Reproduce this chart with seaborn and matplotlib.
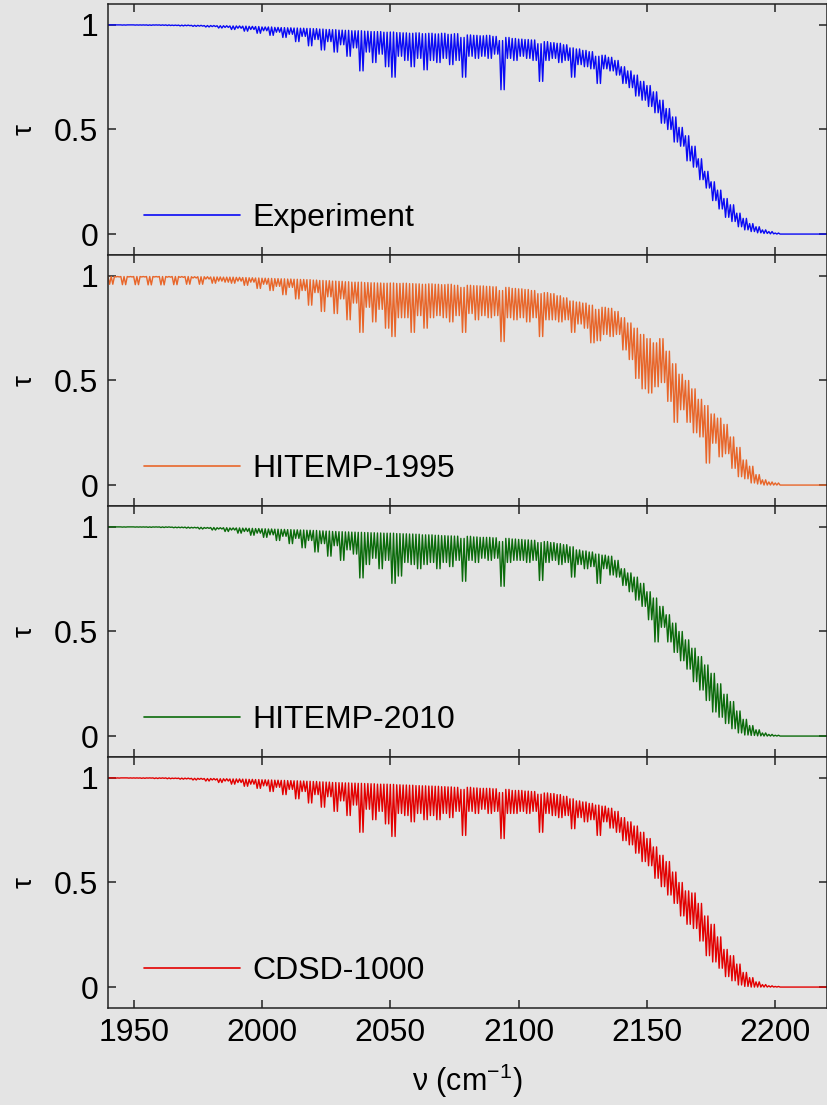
import numpy as np
import pandas as pd
import matplotlib
matplotlib.use("Agg")
import matplotlib.pyplot as plt
import seaborn as sns

# ---------------- data ----------------
# line positions (cm^-1), 1940 ... 2200 every 2.5
nu_lines = np.arange(1940.0, 2200.1, 2.5)
tail_nu = 2220.0
tail_tau = 0.0

labels = ["Experiment", "HITEMP-1995", "HITEMP-2010", "CDSD-1000"]

exp_top = [
    1.0, 1.0, 1.0, 1.0, 1.0, 1.0, 1.0, 1.0, 1.0, 1.0,
    0.999, 0.999, 0.999, 0.998, 0.998, 0.997, 0.997, 0.996, 0.996, 0.995,
    0.995, 0.994, 0.993, 0.992, 0.99, 0.99, 0.988, 0.987, 0.986, 0.985,
    0.984, 0.983, 0.982, 0.98, 0.978, 0.977, 0.975, 0.974, 0.972, 0.972,
    0.97, 0.968, 0.968, 0.965, 0.966, 0.963, 0.962, 0.96, 0.962, 0.958,
    0.96, 0.957, 0.96, 0.955, 0.958, 0.94, 0.952, 0.95, 0.948, 0.95,
    0.945, 0.925, 0.94, 0.935, 0.932, 0.93, 0.928, 0.91, 0.92, 0.915,
    0.912, 0.905, 0.89, 0.885, 0.878, 0.872, 0.85, 0.855, 0.845, 0.83,
    0.80, 0.78, 0.76, 0.73, 0.71, 0.68, 0.64, 0.60, 0.56, 0.51,
    0.47, 0.42, 0.36, 0.30, 0.25, 0.21, 0.17, 0.14, 0.10, 0.075,
    0.05, 0.035, 0.02, 0.012, 0.005,
]
exp_dip = [
    1.0, 1.0, 0.999, 1.0, 0.999, 0.999, 0.998, 0.999, 0.998, 0.997,
    0.997, 0.995, 0.996, 0.993, 0.994, 0.99, 0.992, 0.985, 0.988, 0.978,
    0.984, 0.97, 0.978, 0.96, 0.972, 0.95, 0.965, 0.94, 0.955, 0.92,
    0.945, 0.90, 0.93, 0.88, 0.92, 0.87, 0.905, 0.85, 0.89, 0.78,
    0.87, 0.82, 0.86, 0.80, 0.75, 0.85, 0.83, 0.80, 0.84, 0.785,
    0.83, 0.82, 0.84, 0.81, 0.83, 0.75, 0.85, 0.84, 0.85, 0.84,
    0.86, 0.69, 0.84, 0.83, 0.85, 0.84, 0.83, 0.73, 0.83, 0.84,
    0.82, 0.83, 0.75, 0.81, 0.80, 0.79, 0.72, 0.79, 0.78, 0.76,
    0.72, 0.70, 0.66, 0.64, 0.61, 0.58, 0.53, 0.50, 0.44, 0.42,
    0.35, 0.32, 0.26, 0.22, 0.16, 0.12, 0.08, 0.06, 0.035, 0.02,
    0.012, 0.006, 0.003, 0.001, 0.0,
]

h95_top = [
    0.997, 0.997, 0.997, 0.997, 0.997, 0.997, 0.997, 0.997, 0.997, 0.997,
    0.997, 0.997, 0.997, 0.996, 0.996, 0.996, 0.995, 0.995, 0.994, 0.994,
    0.993, 0.992, 0.991, 0.99, 0.989, 0.988, 0.987, 0.986, 0.985, 0.984,
    0.983, 0.982, 0.98, 0.978, 0.977, 0.975, 0.974, 0.972, 0.97, 0.97,
    0.968, 0.967, 0.966, 0.965, 0.966, 0.964, 0.965, 0.963, 0.962, 0.96,
    0.962, 0.96, 0.958, 0.96, 0.955, 0.945, 0.955, 0.953, 0.952, 0.95,
    0.948, 0.93, 0.945, 0.94, 0.938, 0.935, 0.93, 0.915, 0.92, 0.915,
    0.905, 0.895, 0.88, 0.875, 0.87, 0.86, 0.84, 0.85, 0.845, 0.83,
    0.80, 0.775, 0.75, 0.72, 0.70, 0.68, 0.70, 0.64, 0.58, 0.53,
    0.50, 0.46, 0.41, 0.38, 0.34, 0.32, 0.29, 0.23, 0.18, 0.12,
    0.09, 0.05, 0.025, 0.015, 0.01,
]
h95_dip = [
    0.96, 0.995, 0.958, 0.995, 0.958, 0.995, 0.957, 0.995, 0.957, 0.994,
    0.958, 0.993, 0.96, 0.99, 0.96, 0.985, 0.965, 0.975, 0.97, 0.965,
    0.975, 0.955, 0.97, 0.94, 0.96, 0.93, 0.95, 0.91, 0.945, 0.89,
    0.93, 0.86, 0.92, 0.83, 0.90, 0.82, 0.89, 0.79, 0.87, 0.73,
    0.85, 0.78, 0.84, 0.75, 0.71, 0.80, 0.80, 0.73, 0.81, 0.75,
    0.80, 0.81, 0.80, 0.78, 0.81, 0.73, 0.82, 0.79, 0.81, 0.80,
    0.81, 0.686, 0.80, 0.79, 0.80, 0.78, 0.80, 0.71, 0.79, 0.79,
    0.78, 0.79, 0.73, 0.77, 0.75, 0.68, 0.69, 0.72, 0.71, 0.72,
    0.646, 0.60, 0.51, 0.46, 0.44, 0.47, 0.49, 0.40, 0.30, 0.36,
    0.30, 0.25, 0.23, 0.105, 0.20, 0.135, 0.15, 0.08, 0.04, 0.03,
    0.01, 0.005, 0.0, 0.0, 0.0,
]

h10_top = [
    1.0, 1.0, 1.0, 1.0, 1.0, 1.0, 1.0, 1.0, 1.0, 1.0,
    0.999, 0.999, 0.999, 0.998, 0.998, 0.997, 0.997, 0.996, 0.996, 0.995,
    0.995, 0.994, 0.993, 0.992, 0.991, 0.99, 0.989, 0.988, 0.987, 0.986,
    0.985, 0.984, 0.983, 0.981, 0.98, 0.978, 0.977, 0.976, 0.975, 0.974,
    0.973, 0.972, 0.971, 0.97, 0.97, 0.968, 0.967, 0.966, 0.965, 0.962,
    0.962, 0.96, 0.958, 0.957, 0.956, 0.945, 0.955, 0.952, 0.95, 0.95,
    0.948, 0.93, 0.945, 0.942, 0.94, 0.938, 0.936, 0.925, 0.93, 0.925,
    0.92, 0.915, 0.905, 0.89, 0.885, 0.88, 0.87, 0.865, 0.86, 0.84,
    0.80, 0.78, 0.76, 0.73, 0.69, 0.66, 0.62, 0.58, 0.54, 0.50,
    0.46, 0.42, 0.38, 0.34, 0.30, 0.25, 0.20, 0.165, 0.12, 0.08,
    0.05, 0.03, 0.015, 0.008, 0.004,
]
h10_dip = [
    1.0, 1.0, 0.999, 1.0, 0.999, 0.999, 0.998, 0.999, 0.997, 0.998,
    0.996, 0.996, 0.994, 0.995, 0.99, 0.993, 0.985, 0.99, 0.978, 0.985,
    0.97, 0.978, 0.96, 0.97, 0.95, 0.962, 0.935, 0.955, 0.92, 0.945,
    0.90, 0.935, 0.88, 0.92, 0.86, 0.91, 0.84, 0.89, 0.87, 0.756,
    0.82, 0.85, 0.80, 0.84, 0.73, 0.765, 0.83, 0.82, 0.80, 0.82,
    0.83, 0.80, 0.83, 0.81, 0.84, 0.74, 0.84, 0.83, 0.85, 0.84,
    0.85, 0.716, 0.83, 0.84, 0.84, 0.83, 0.84, 0.744, 0.83, 0.84,
    0.82, 0.83, 0.76, 0.82, 0.80, 0.81, 0.73, 0.80, 0.77, 0.76,
    0.72, 0.69, 0.65, 0.62, 0.556, 0.45, 0.52, 0.45, 0.40, 0.36,
    0.32, 0.26, 0.22, 0.17, 0.115, 0.09, 0.06, 0.035, 0.015, 0.005,
    0.003, 0.001, 0.0, 0.0, 0.0,
]

cdsd_top = [
    1.0, 1.0, 1.0, 1.0, 1.0, 1.0, 1.0, 1.0, 1.0, 1.0,
    0.999, 0.999, 0.999, 0.998, 0.998, 0.997, 0.997, 0.996, 0.996, 0.995,
    0.995, 0.994, 0.993, 0.992, 0.991, 0.99, 0.989, 0.988, 0.987, 0.986,
    0.985, 0.984, 0.983, 0.981, 0.98, 0.978, 0.977, 0.976, 0.975, 0.974,
    0.973, 0.972, 0.97, 0.97, 0.969, 0.967, 0.966, 0.965, 0.963, 0.962,
    0.961, 0.96, 0.958, 0.957, 0.955, 0.945, 0.955, 0.952, 0.95, 0.95,
    0.948, 0.93, 0.945, 0.94, 0.94, 0.937, 0.935, 0.922, 0.928, 0.925,
    0.92, 0.912, 0.90, 0.89, 0.885, 0.878, 0.87, 0.865, 0.855, 0.84,
    0.81, 0.79, 0.77, 0.74, 0.71, 0.67, 0.63, 0.60, 0.55, 0.50,
    0.46, 0.45, 0.40, 0.34, 0.30, 0.24, 0.18, 0.15, 0.11, 0.07,
    0.045, 0.025, 0.012, 0.006, 0.003,
]
cdsd_dip = [
    1.0, 0.999, 1.0, 0.999, 0.999, 0.998, 0.999, 0.997, 0.998, 0.996,
    0.997, 0.994, 0.995, 0.99, 0.993, 0.985, 0.99, 0.978, 0.985, 0.97,
    0.978, 0.96, 0.97, 0.95, 0.962, 0.935, 0.955, 0.92, 0.945, 0.90,
    0.935, 0.88, 0.92, 0.86, 0.91, 0.84, 0.89, 0.82, 0.87, 0.74,
    0.85, 0.80, 0.84, 0.78, 0.72, 0.83, 0.82, 0.79, 0.83, 0.80,
    0.82, 0.80, 0.83, 0.81, 0.84, 0.725, 0.84, 0.83, 0.85, 0.83,
    0.84, 0.71, 0.83, 0.83, 0.84, 0.83, 0.84, 0.74, 0.83, 0.82,
    0.81, 0.82, 0.757, 0.81, 0.79, 0.80, 0.725, 0.79, 0.76, 0.74,
    0.70, 0.68, 0.64, 0.60, 0.58, 0.52, 0.48, 0.44, 0.40, 0.34,
    0.30, 0.28, 0.22, 0.15, 0.12, 0.09, 0.05, 0.03, 0.01, 0.003,
    0.0, 0.0, 0.0, 0.0, 0.0,
]

colors = ["#0a0af5", "#e8662a", "#0b6b0b", "#e30000"]
x_ticks = [1950, 2000, 2050, 2100, 2150, 2200]
y_ticks = [0, 0.5, 1]
y_ticklabels = ["0", "0.5", "1"]

# ---------------- style ----------------
bg = "#e4e4e4"
sns.set_theme(style="ticks")
plt.rcParams["font.family"] = ["Liberation Sans", "DejaVu Sans"]
plt.rcParams["mathtext.fontset"] = "custom"
plt.rcParams["mathtext.rm"] = "Liberation Sans"
plt.rcParams["mathtext.it"] = "Liberation Sans:italic"
plt.rcParams["figure.facecolor"] = bg
plt.rcParams["axes.facecolor"] = bg
plt.rcParams["savefig.facecolor"] = bg
plt.rcParams["text.color"] = "black"
plt.rcParams["axes.labelcolor"] = "black"

fig, axes = plt.subplots(4, 1, figsize=(8.27, 11.05), dpi=100, sharex=True)
fig.subplots_adjust(left=0.1306, right=0.9995, top=0.9964, bottom=0.0878, hspace=0)

all_series = [(exp_top, exp_dip), (h95_top, h95_dip), (h10_top, h10_dip), (cdsd_top, cdsd_dip)]

for ax, label, (tops, dips), col in zip(axes, labels, all_series, colors):
    # each band line drawn as a doublet of narrow absorption spikes
    xs, ys = [], []
    for nu, t, d in zip(nu_lines, tops, dips):
        xs += [nu, nu + 0.625, nu + 1.25, nu + 1.875]
        ys += [t, d, t, d]
    xs.append(tail_nu)
    ys.append(tail_tau)
    df = pd.DataFrame({"nu": xs, "tau": ys})
    sns.lineplot(data=df, x="nu", y="tau", ax=ax, color=col, lw=1.0,
                 sort=False, estimator=None, label=label)
    ax.set_xlim(1940, 2220)
    ax.set_ylim(-0.1, 1.1)
    ax.set_xticks(x_ticks)
    ax.set_yticks(y_ticks)
    ax.set_yticklabels(y_ticklabels)
    ax.tick_params(direction="in", length=6, width=1.1, color="#222222",
                   top=True, right=True, labelsize=23, pad=7, labelcolor="black")
    for s in ax.spines.values():
        s.set_color("#222222")
        s.set_linewidth(1.1)
    ax.set_ylabel("τ", fontsize=20, rotation=90, color="black")
    ax.yaxis.set_label_coords(-0.098, 0.5)
    ax.set_xlabel("")
    leg = ax.legend(loc="lower left", bbox_to_anchor=(0.05, 0.088), frameon=False,
                    fontsize=23, handlelength=3.0, handletextpad=0.4,
                    borderpad=0, borderaxespad=0)
    for txt in leg.get_texts():
        txt.set_color("black")
    for ln in leg.get_lines():
        ln.set_linewidth(1.2)

axes[-1].set_xlabel("ν (cm$^{-1}$)", fontsize=22, color="black", labelpad=10)

fig.savefig("out.png", dpi=100)
